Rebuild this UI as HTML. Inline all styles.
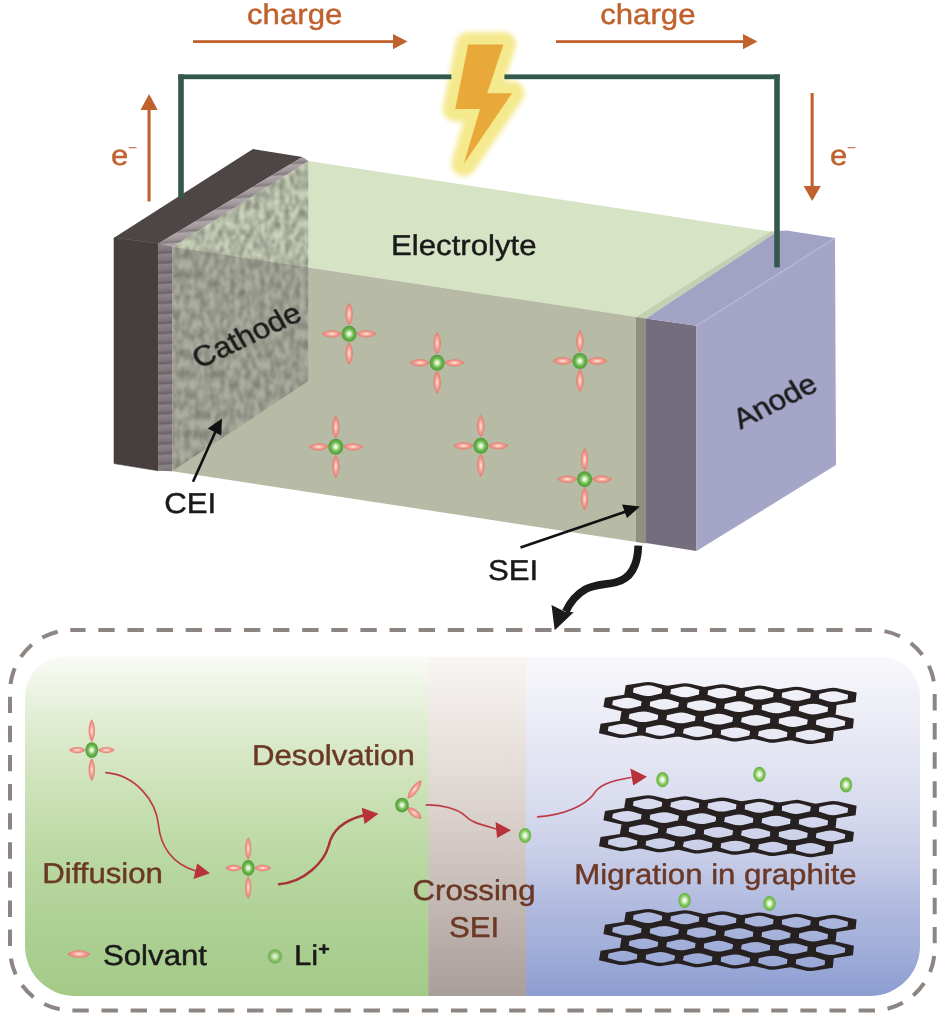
<!DOCTYPE html>
<html lang="en">
<head>
<meta charset="utf-8">
<title>Battery charge schematic</title>
<style>
html,body{margin:0;padding:0;background:#fff;}
body{width:945px;height:1018px;overflow:hidden;}
svg{display:block;}
text{font-family:"Liberation Sans",sans-serif;text-rendering:geometricPrecision;}
.tk,.tb,.to{opacity:0.999;}
.tk text{stroke:#1a1a1a;}
.tb text{stroke:#6b3826;}
.to text{stroke:#c0622d;}
</style>
</head>
<body>
<svg width="945" height="1018" viewBox="0 0 945 1018">
<defs>
<radialGradient id="ball" cx="50%" cy="50%" r="50%">
<stop offset="0" stop-color="#ffffff"/>
<stop offset="0.22" stop-color="#d8f0c8"/>
<stop offset="0.6" stop-color="#6cb84c"/>
<stop offset="1" stop-color="#4f9a3a"/>
</radialGradient>
<radialGradient id="ball3" cx="50%" cy="50%" r="50%">
<stop offset="0" stop-color="#eef8e4"/>
<stop offset="0.3" stop-color="#c4e4ac"/>
<stop offset="0.7" stop-color="#7cb25c"/>
<stop offset="0.9" stop-color="#7fb562"/>
<stop offset="1" stop-color="#9ac97e"/>
</radialGradient>
<radialGradient id="ball2" cx="50%" cy="50%" r="50%">
<stop offset="0" stop-color="#ffffff"/>
<stop offset="0.28" stop-color="#e0f4d0"/>
<stop offset="0.65" stop-color="#84c85c"/>
<stop offset="1" stop-color="#62ad42"/>
</radialGradient>
<radialGradient id="petal" cx="50%" cy="50%" r="50%">
<stop offset="0" stop-color="#ffeeda"/>
<stop offset="0.35" stop-color="#f8b3a6"/>
<stop offset="0.75" stop-color="#ec8a84"/>
<stop offset="1" stop-color="#d87c5c"/>
</radialGradient>
<linearGradient id="gGreen" x1="0" y1="0" x2="0" y2="1">
<stop offset="0" stop-color="#f9fbf5"/>
<stop offset="0.2" stop-color="#e0ecd1"/>
<stop offset="0.4" stop-color="#cbe1b7"/>
<stop offset="0.6" stop-color="#bad8a2"/>
<stop offset="0.8" stop-color="#add093"/>
<stop offset="1" stop-color="#a4ca88"/>
</linearGradient>
<linearGradient id="gSei" x1="0" y1="0" x2="0" y2="1">
<stop offset="0" stop-color="#f8f5f3"/>
<stop offset="0.2" stop-color="#ece6e3"/>
<stop offset="0.44" stop-color="#ddd4cf"/>
<stop offset="0.6" stop-color="#cfc5c0"/>
<stop offset="0.84" stop-color="#b8ada9"/>
<stop offset="1" stop-color="#a89e9a"/>
</linearGradient>
<linearGradient id="gBlue" x1="0" y1="0" x2="0" y2="1">
<stop offset="0" stop-color="#f8f8fb"/>
<stop offset="0.2" stop-color="#eaebf5"/>
<stop offset="0.44" stop-color="#d9dcef"/>
<stop offset="0.6" stop-color="#c6cce7"/>
<stop offset="0.72" stop-color="#b3bce0"/>
<stop offset="0.85" stop-color="#a2afd9"/>
<stop offset="1" stop-color="#8c9dd1"/>
</linearGradient>
<filter id="noise" x="0" y="0" width="100%" height="100%" color-interpolation-filters="sRGB">
<feTurbulence type="fractalNoise" baseFrequency="0.2 0.1" numOctaves="3" seed="11" result="n"/>
<feColorMatrix in="n" type="matrix" values="0 0 0 0 0.42  0 0 0 0 0.43  0 0 0 0 0.39  1.45 0 0 0 -0.44"/>
<feGaussianBlur stdDeviation="0.8"/>
</filter>
<filter id="glow" x="-50%" y="-50%" width="200%" height="200%">
<feGaussianBlur stdDeviation="2.8"/>
</filter>
<filter id="soft" x="-5%" y="-5%" width="110%" height="110%">
<feGaussianBlur stdDeviation="0.8"/>
</filter>
<clipPath id="cathClip"><polygon points="172.3,247 308.3,161 308.3,381 172.3,471.2"/></clipPath>
<clipPath id="ceiClip"><polygon points="158.4,243.6 302.4,157 308.3,161 172.3,247 172.3,471.2 158.4,470.8"/></clipPath>
<linearGradient id="ribs" gradientUnits="userSpaceOnUse" x1="0" y1="3" x2="0.7" y2="13" spreadMethod="repeat">
<stop offset="0" stop-color="#6e666a"/>
<stop offset="0.18" stop-color="#aaa2a6"/>
<stop offset="0.7" stop-color="#938b8f"/>
<stop offset="0.9" stop-color="#7c7478"/>
<stop offset="1" stop-color="#6e666a"/>
</linearGradient>
<clipPath id="panelClip"><path d="M65,656.5 H880 A40,40 0 0 1 920,696.5 V946 A50,50 0 0 1 870,996 H75 A50,50 0 0 1 25,946 V696.5 A40,40 0 0 1 65,656.5 Z"/></clipPath>
</defs>

<g fill="#c0622d" stroke="none" class="to">
<text transform="translate(247,23.5) scale(1.09,1)" font-size="28.6" stroke-width="0.45" stroke-linejoin="round">charge</text>
<text transform="translate(600.2,24.4) scale(1.09,1)" font-size="28.6" stroke-width="0.45" stroke-linejoin="round">charge</text>
<rect x="193" y="40.2" width="201" height="2.8"/>
<polygon points="393,34 407.5,41.6 393,49.2"/>
<rect x="556" y="40.2" width="188" height="2.8"/>
<polygon points="743,34 757.5,41.6 743,49.2"/>
<rect x="147.5" y="108" width="3.1" height="93.5"/>
<polygon points="140.5,110 149.1,94 157.7,110"/>
<text transform="translate(111,165) scale(1.09,1)" font-size="28.6" stroke-width="0.45" stroke-linejoin="round">e</text>
<text x="127.9" y="153.2" font-size="16" stroke-width="0" fill-opacity="0.9">−</text>
<rect x="810.6" y="93" width="3.1" height="95"/>
<polygon points="803.6,186 812.2,201 820.8,186"/>
<text transform="translate(830,165) scale(1.09,1)" font-size="28.6" stroke-width="0.45" stroke-linejoin="round">e</text>
<text x="846.7" y="153.2" font-size="16" stroke-width="0" fill-opacity="0.9">−</text>
</g>
<polygon points="172.3,247 308.3,161 770,231.5 636,317" fill="#d6e3c5"/>
<polygon points="636,317 770,231.5 778,231 646,318.5" fill="#c3d1b2"/>
<polygon points="172.3,247 636.5,317 636.5,542 172.3,471.2" fill="#b7baa5"/>
<g clip-path="url(#cathClip)">
<polygon points="172.3,247 308.3,161 308.3,267.5" fill="#ccd4bc"/>
<polygon points="172.3,247 308.3,267.5 308.3,381 172.3,471.2" fill="#aeaea1"/>
<rect x="165" y="155" width="150" height="320" fill="#5d5f55" filter="url(#noise)"/>
</g>
<polygon points="114,237.8 253,149 302.4,157 158.4,243.6" fill="#4e4644"/>
<polygon points="114,237.8 158.4,243.6 158.4,470.8 114,463.6" fill="#473f3e" stroke="#473f3e" stroke-width="0.6" stroke-linejoin="round"/>
<g clip-path="url(#ceiClip)">
<rect x="150" y="150" width="165" height="330" fill="url(#ribs)"/>
<polygon points="158.4,243.6 302.4,157 308.3,161 172.3,247" fill="#b8b0b4" fill-opacity="0.3"/>
<polygon points="158.4,243.6 172.3,247 172.3,471.2 158.4,470.8" fill="#655d62" fill-opacity="0.45"/>
</g>
<polygon points="636,317 646,318.5 646,543.5 636,542" fill="#8e917e"/>
<polygon points="646,318.5 696.5,325.7 696.5,551 646,543" fill="#736d7e"/>
<polygon points="646,318.5 778,231 786.5,230.6 835,238 696.5,325.7" fill="#a2a3c4"/>
<polygon points="696.5,325.7 835,238 836,465 696.5,551" fill="#a5a6c7"/>
<line x1="696.5" y1="325.7" x2="835" y2="238" stroke="#b8b9d6" stroke-width="1.2"/>
<polygon points="468.2,44.4 503.4,44.4 487.2,93.3 512,93.3 463.8,163.8 480,109 455.2,109" fill="#f5e98e" stroke="#f5e98e" stroke-width="25" stroke-linejoin="round" filter="url(#glow)"/>
<g fill="#33594f">
<rect x="178.2" y="74.4" width="5.6" height="123.6"/>
<rect x="178.2" y="74.4" width="273.2" height="4.8"/>
<rect x="504.4" y="74.4" width="275.4" height="4.8"/>
<rect x="774.2" y="74.4" width="5.6" height="193"/>
</g>
<polygon points="468.2,44.4 503.4,44.4 487.2,93.3 512,93.3 463.8,163.8 480,109 455.2,109" fill="#e8a93a"/>
<g><path transform="translate(349.1,314.1)" d="M0,-11.4 C4.88,-6.27 4.88,6.27 0,11.4 C-4.88,6.27 -4.88,-6.27 0,-11.4Z" fill="url(#petal)"/><path transform="translate(349.1,353.5)" d="M0,-11.4 C4.88,-6.27 4.88,6.27 0,11.4 C-4.88,6.27 -4.88,-6.27 0,-11.4Z" fill="url(#petal)"/><path transform="translate(331.8,333.8)" d="M-10.1,0 C-5.56,-4.88 5.56,-4.88 10.1,0 C5.56,4.88 -5.56,4.88 -10.1,0Z" fill="url(#petal)"/><path transform="translate(366.4,333.8)" d="M-10.1,0 C-5.56,-4.88 5.56,-4.88 10.1,0 C5.56,4.88 -5.56,4.88 -10.1,0Z" fill="url(#petal)"/><ellipse cx="349.1" cy="333.8" rx="7.5" ry="8" fill="url(#ball)"/></g>
<g><path transform="translate(437.1,343.1)" d="M0,-11.4 C4.88,-6.27 4.88,6.27 0,11.4 C-4.88,6.27 -4.88,-6.27 0,-11.4Z" fill="url(#petal)"/><path transform="translate(437.1,382.5)" d="M0,-11.4 C4.88,-6.27 4.88,6.27 0,11.4 C-4.88,6.27 -4.88,-6.27 0,-11.4Z" fill="url(#petal)"/><path transform="translate(419.8,362.8)" d="M-10.1,0 C-5.56,-4.88 5.56,-4.88 10.1,0 C5.56,4.88 -5.56,4.88 -10.1,0Z" fill="url(#petal)"/><path transform="translate(454.4,362.8)" d="M-10.1,0 C-5.56,-4.88 5.56,-4.88 10.1,0 C5.56,4.88 -5.56,4.88 -10.1,0Z" fill="url(#petal)"/><ellipse cx="437.1" cy="362.8" rx="7.5" ry="8" fill="url(#ball)"/></g>
<g><path transform="translate(579.9,341.3)" d="M0,-11.4 C4.88,-6.27 4.88,6.27 0,11.4 C-4.88,6.27 -4.88,-6.27 0,-11.4Z" fill="url(#petal)"/><path transform="translate(579.9,380.7)" d="M0,-11.4 C4.88,-6.27 4.88,6.27 0,11.4 C-4.88,6.27 -4.88,-6.27 0,-11.4Z" fill="url(#petal)"/><path transform="translate(562.6,361)" d="M-10.1,0 C-5.56,-4.88 5.56,-4.88 10.1,0 C5.56,4.88 -5.56,4.88 -10.1,0Z" fill="url(#petal)"/><path transform="translate(597.2,361)" d="M-10.1,0 C-5.56,-4.88 5.56,-4.88 10.1,0 C5.56,4.88 -5.56,4.88 -10.1,0Z" fill="url(#petal)"/><ellipse cx="579.9" cy="361" rx="7.5" ry="8" fill="url(#ball)"/></g>
<g><path transform="translate(335.8,427.1)" d="M0,-11.4 C4.88,-6.27 4.88,6.27 0,11.4 C-4.88,6.27 -4.88,-6.27 0,-11.4Z" fill="url(#petal)"/><path transform="translate(335.8,466.5)" d="M0,-11.4 C4.88,-6.27 4.88,6.27 0,11.4 C-4.88,6.27 -4.88,-6.27 0,-11.4Z" fill="url(#petal)"/><path transform="translate(318.5,446.8)" d="M-10.1,0 C-5.56,-4.88 5.56,-4.88 10.1,0 C5.56,4.88 -5.56,4.88 -10.1,0Z" fill="url(#petal)"/><path transform="translate(353.1,446.8)" d="M-10.1,0 C-5.56,-4.88 5.56,-4.88 10.1,0 C5.56,4.88 -5.56,4.88 -10.1,0Z" fill="url(#petal)"/><ellipse cx="335.8" cy="446.8" rx="7.5" ry="8" fill="url(#ball)"/></g>
<g><path transform="translate(480.8,426.1)" d="M0,-11.4 C4.88,-6.27 4.88,6.27 0,11.4 C-4.88,6.27 -4.88,-6.27 0,-11.4Z" fill="url(#petal)"/><path transform="translate(480.8,465.5)" d="M0,-11.4 C4.88,-6.27 4.88,6.27 0,11.4 C-4.88,6.27 -4.88,-6.27 0,-11.4Z" fill="url(#petal)"/><path transform="translate(463.5,445.8)" d="M-10.1,0 C-5.56,-4.88 5.56,-4.88 10.1,0 C5.56,4.88 -5.56,4.88 -10.1,0Z" fill="url(#petal)"/><path transform="translate(498.1,445.8)" d="M-10.1,0 C-5.56,-4.88 5.56,-4.88 10.1,0 C5.56,4.88 -5.56,4.88 -10.1,0Z" fill="url(#petal)"/><ellipse cx="480.8" cy="445.8" rx="7.5" ry="8" fill="url(#ball)"/></g>
<g><path transform="translate(584.6,459.5)" d="M0,-11.4 C4.88,-6.27 4.88,6.27 0,11.4 C-4.88,6.27 -4.88,-6.27 0,-11.4Z" fill="url(#petal)"/><path transform="translate(584.6,498.9)" d="M0,-11.4 C4.88,-6.27 4.88,6.27 0,11.4 C-4.88,6.27 -4.88,-6.27 0,-11.4Z" fill="url(#petal)"/><path transform="translate(567.3,479.2)" d="M-10.1,0 C-5.56,-4.88 5.56,-4.88 10.1,0 C5.56,4.88 -5.56,4.88 -10.1,0Z" fill="url(#petal)"/><path transform="translate(601.9,479.2)" d="M-10.1,0 C-5.56,-4.88 5.56,-4.88 10.1,0 C5.56,4.88 -5.56,4.88 -10.1,0Z" fill="url(#petal)"/><ellipse cx="584.6" cy="479.2" rx="7.5" ry="8" fill="url(#ball)"/></g>
<g fill="#1a1a1a" class="tk">
<text transform="translate(391,255.2) scale(1.09,1)" font-size="28.6" stroke-width="0.45" stroke-linejoin="round">Electrolyte</text>
<text transform="translate(199,368.5) scale(1.09,1) rotate(-27.5)" font-size="28.6" stroke-width="0.45" stroke-linejoin="round">Cathode</text>
<text transform="translate(740.3,429.3) scale(1.09,1) rotate(-29)" font-size="28.6" stroke-width="0.45" stroke-linejoin="round">Anode</text>
<text transform="translate(164.3,513.4) scale(1.09,1)" font-size="28.6" stroke-width="0.45" stroke-linejoin="round">CEI</text>
<text transform="translate(488,579.7) scale(1.09,1)" font-size="28.6" stroke-width="0.45" stroke-linejoin="round">SEI</text>
</g>
<g stroke="#111" stroke-width="2.6" fill="#111">
<line x1="193" y1="481.7" x2="215.5" y2="431.5"/>
<polygon points="222,418.6 207.8,428.4 221.2,435.4" stroke="none"/>
<line x1="520.5" y1="547.5" x2="626" y2="511.5"/>
<polygon points="640,506.5 622,504.5 627,518" stroke="none"/>
</g>
<path d="M638.3,545.6 C637.8,564.7 631.3,578.4 616.0,582.2 C605.4,584.8 594.9,584.1 585.3,589.4 C575.8,594.7 569.9,602.8 565.7,611.6" fill="none" stroke="#1c1a1a" stroke-width="7.8" stroke-linecap="butt"/>
<polygon points="554.7,630.3 551.5,604.9 564.5,611.5 573.7,612.3" fill="#1c1a1a"/>
<path d="M72.0,630.0 H872.7 A62.0,62.0 0 0 1 934.7,692.0 V948.5 A62.0,62.0 0 0 1 872.7,1010.5 H72.0 A62.0,62.0 0 0 1 10.0,948.5 V692.0 A62.0,62.0 0 0 1 72.0,630.0 Z" fill="none" stroke="#8c8582" stroke-width="4" stroke-dasharray="16.4 12.72" stroke-dashoffset="2.8"/>
<g clip-path="url(#panelClip)">
<rect x="25" y="656.5" width="404" height="339.5" fill="url(#gGreen)"/>
<rect x="428.5" y="656.5" width="98" height="339.5" fill="url(#gSei)"/>
<rect x="526" y="656.5" width="394" height="339.5" fill="url(#gBlue)"/>
</g>
<g fill="#262120" fill-rule="evenodd"><path d="M644.94,682.24Q649.15,681.58 653.1,682.5L671.15,686.73L669.71,696.12L650.48,699.16Q646.25,699.82 642.28,698.9L624.2,694.67L625.74,685.29ZM642.67,685.96Q648.67,684.57 654.18,686.32L662.45,688.94L661.77,693.37L652.75,695.45Q646.73,696.83 641.21,695.08L632.93,692.46L633.65,688.03Z"/><path d="M682,683.42Q686.2,682.75 690.16,683.68L708.24,687.91L706.9,697.3L687.7,700.34Q683.48,701.01 679.5,700.08L661.38,695.85L662.84,686.46ZM679.76,687.13Q685.75,685.75 691.28,687.5L699.57,690.12L698.93,694.56L689.93,696.63Q683.93,698.01 678.39,696.26L670.09,693.64L670.77,689.21Z"/><path d="M719.06,684.6Q723.25,683.93 727.22,684.86L745.33,689.08L744.08,698.48L724.92,701.52Q720.71,702.19 716.72,701.26L698.57,697.03L699.93,687.64ZM716.86,688.31Q722.83,686.93 728.37,688.68L736.69,691.3L736.09,695.74L727.12,697.81Q721.13,699.19 715.57,697.44L707.25,694.82L707.89,690.38Z"/><path d="M756.12,685.77Q760.3,685.1 764.28,686.03L782.43,690.26L781.27,699.66L762.14,702.71Q757.94,703.38 753.94,702.45L735.76,698.22L737.03,688.82ZM753.95,689.49Q759.91,688.1 765.47,689.85L773.81,692.48L773.25,696.92L764.3,698.99Q758.33,700.38 752.76,698.63L744.41,696L745,691.56Z"/><path d="M793.17,686.95Q797.35,686.28 801.34,687.21L819.52,691.44L818.46,700.85L799.36,703.89Q795.17,704.56 791.16,703.63L772.94,699.4L774.12,690ZM791.05,690.67Q796.99,689.28 802.56,691.03L810.93,693.66L810.41,698.1L801.49,700.17Q795.53,701.56 789.94,699.81L781.58,697.18L782.12,692.74Z"/><path d="M830.23,688.12Q834.4,687.45 838.4,688.38L856.62,692.62L855.64,702.03L836.58,705.08Q832.4,705.75 828.38,704.82L810.13,700.58L811.21,691.18ZM828.14,691.84Q834.07,690.46 839.66,692.21L848.05,694.84L847.58,699.28L838.67,701.36Q832.73,702.74 827.13,700.99L818.74,698.36L819.24,693.92Z"/><path d="M624.26,694.69Q628.49,694.02 632.46,694.95L650.55,699.17L649.07,708.56L629.75,711.59Q625.51,712.26 621.53,711.33L603.4,707.1L604.99,697.72ZM621.97,698.4Q628,697.02 633.52,698.76L641.81,701.38L641.11,705.82L632.05,707.89Q626,709.26 620.46,707.52L612.17,704.89L612.91,700.46Z"/><path d="M661.45,695.87Q665.67,695.2 669.64,696.13L687.77,700.36L686.38,709.75L667.1,712.79Q662.86,713.45 658.87,712.52L640.71,708.29L642.21,698.91ZM659.19,699.58Q665.21,698.2 670.74,699.95L679.06,702.57L678.39,707L669.36,709.07Q663.33,710.45 657.77,708.7L649.46,706.08L650.16,701.65Z"/><path d="M698.64,697.05Q702.85,696.38 706.83,697.31L724.99,701.54L723.69,710.94L704.45,713.98Q700.22,714.64 696.22,713.71L678.02,709.48L679.43,700.09ZM696.41,700.76Q702.42,699.38 707.97,701.13L716.3,703.76L715.68,708.19L706.67,710.26Q700.65,711.64 695.09,709.89L686.75,707.27L687.4,702.84Z"/><path d="M735.82,698.23Q740.03,697.57 744.01,698.49L762.21,702.73L761.01,712.13L741.8,715.17Q737.57,715.84 733.57,714.91L715.33,710.67L716.65,701.28ZM733.64,701.95Q739.62,700.57 745.19,702.32L753.55,704.94L752.97,709.38L743.98,711.45Q737.98,712.83 732.4,711.08L724.03,708.46L724.65,704.02Z"/><path d="M773.01,699.42Q777.2,698.75 781.2,699.68L799.43,703.91L798.32,713.31L779.14,716.36Q774.93,717.03 770.92,716.1L752.65,711.86L753.87,702.46ZM770.86,703.13Q776.83,701.75 782.41,703.5L790.79,706.13L790.26,710.57L781.29,712.64Q775.3,714.02 769.71,712.27L761.32,709.65L761.89,705.21Z"/><path d="M810.19,700.6Q814.38,699.93 818.39,700.86L836.65,705.1L835.63,714.5L816.49,717.55Q812.29,718.22 808.26,717.29L789.96,713.05L791.09,703.65ZM808.08,704.32Q814.04,702.93 819.63,704.68L828.04,707.31L827.55,711.75L818.6,713.83Q812.63,715.21 807.02,713.46L798.61,710.83L799.14,706.39Z"/><path d="M640.78,708.31Q645.01,707.64 649,708.57L667.17,712.8L665.74,722.19L646.37,725.22Q642.12,725.89 638.12,724.96L619.91,720.73L621.45,711.35ZM638.49,712.02Q644.54,710.64 650.09,712.39L658.42,715.01L657.73,719.45L648.65,721.51Q642.6,722.89 637.03,721.14L628.7,718.52L629.42,714.09Z"/><path d="M678.09,709.5Q682.32,708.83 686.31,709.76L704.52,713.99L703.17,723.39L683.85,726.42Q679.6,727.09 675.59,726.16L657.35,721.92L658.8,712.54ZM675.84,713.21Q681.87,711.83 687.44,713.58L695.79,716.21L695.15,720.64L686.09,722.71Q680.05,724.09 674.47,722.34L666.11,719.71L666.79,715.28Z"/><path d="M715.4,710.69Q719.62,710.02 723.62,710.95L741.86,715.19L740.61,724.58L721.32,727.62Q717.08,728.29 713.07,727.36L694.79,723.12L696.15,713.73ZM713.19,714.4Q719.21,713.02 724.78,714.77L733.16,717.4L732.56,721.83L723.53,723.91Q717.5,725.29 711.91,723.53L703.53,720.91L704.16,716.47Z"/><path d="M752.71,711.88Q756.93,711.21 760.93,712.14L779.21,716.38L778.05,725.78L758.8,728.82Q754.57,729.48 750.54,728.55L732.23,724.31L733.5,714.92ZM750.54,715.59Q756.54,714.21 762.13,715.96L770.53,718.59L769.98,723.03L760.97,725.1Q754.95,726.48 749.35,724.73L740.94,722.1L741.53,717.67Z"/><path d="M790.03,713.07Q794.23,712.4 798.25,713.33L816.56,717.57L815.49,726.97L796.27,730.01Q792.05,730.68 788.02,729.75L769.67,725.51L770.84,716.11ZM787.89,716.78Q793.87,715.4 799.48,717.15L807.91,719.78L807.39,724.22L798.4,726.3Q792.41,727.68 786.78,725.93L778.36,723.3L778.9,718.86Z"/><path d="M827.34,714.26Q831.54,713.59 835.56,714.52L853.91,718.76L852.93,728.17L833.75,731.21Q829.53,731.88 825.49,730.95L807.1,726.71L808.19,717.3ZM825.24,717.98Q831.21,716.59 836.83,718.34L845.28,720.97L844.81,725.42L835.84,727.49Q829.86,728.87 824.22,727.12L815.77,724.49L816.28,720.05Z"/><path d="M619.98,720.74Q624.23,720.08 628.22,721.01L646.44,725.24L644.96,734.63L625.52,737.66Q621.25,738.32 617.24,737.39L598.98,733.15L600.57,723.78ZM617.67,724.45Q623.74,723.08 629.3,724.83L637.65,727.45L636.94,731.88L627.82,733.95Q621.74,735.32 616.16,733.57L607.81,730.95L608.55,726.52Z"/><path d="M657.42,721.94Q661.66,721.27 665.66,722.2L683.92,726.44L682.53,735.83L663.12,738.86Q658.86,739.53 654.84,738.6L636.55,734.36L638.05,724.97ZM655.14,725.65Q661.2,724.27 666.78,726.02L675.15,728.65L674.49,733.08L665.39,735.15Q659.32,736.53 653.73,734.78L645.35,732.15L646.05,727.72Z"/><path d="M694.85,723.14Q699.09,722.47 703.1,723.4L721.39,727.64L720.09,737.03L700.72,740.06Q696.47,740.73 692.44,739.8L674.11,735.56L675.52,726.17ZM692.62,726.85Q698.66,725.47 704.25,727.22L712.65,729.85L712.03,734.28L702.95,736.35Q696.9,737.73 691.29,735.98L682.89,733.35L683.55,728.92Z"/><path d="M732.29,724.33Q736.53,723.66 740.54,724.6L758.86,728.83L757.66,738.23L738.32,741.27Q734.08,741.93 730.04,741L711.68,736.76L713,727.37ZM730.1,728.05Q736.12,726.67 741.73,728.42L750.15,731.05L749.57,735.48L740.52,737.55Q734.48,738.93 728.86,737.18L720.44,734.55L721.05,730.12Z"/><path d="M769.73,725.53Q773.96,724.86 777.98,725.79L796.34,730.03L795.23,739.44L775.93,742.47Q771.68,743.14 767.64,742.21L749.25,737.96L750.47,728.57ZM767.57,729.24Q773.58,727.86 779.2,729.62L787.65,732.25L787.11,736.69L778.08,738.76Q772.06,740.14 766.42,738.38L757.98,735.75L758.55,731.32Z"/><path d="M807.17,726.72Q811.39,726.06 815.42,726.99L833.81,731.23L832.79,740.64L813.53,743.68Q809.29,744.34 805.24,743.41L786.81,739.17L787.94,729.76ZM805.05,730.44Q811.04,729.06 816.68,730.81L825.14,733.44L824.65,737.89L815.65,739.96Q809.64,741.34 803.99,739.59L795.52,736.95L796.05,732.51Z"/></g>
<g fill="#262120" fill-rule="evenodd"><path d="M644.94,795.44Q649.15,794.78 653.1,795.7L671.15,799.93L669.71,809.32L650.48,812.36Q646.25,813.02 642.28,812.1L624.2,807.87L625.74,798.49ZM642.67,799.16Q648.67,797.77 654.18,799.52L662.45,802.14L661.77,806.57L652.75,808.65Q646.73,810.03 641.21,808.28L632.93,805.66L633.65,801.23Z"/><path d="M682,796.62Q686.2,795.95 690.16,796.88L708.24,801.11L706.9,810.5L687.7,813.54Q683.48,814.21 679.5,813.28L661.38,809.05L662.84,799.66ZM679.76,800.33Q685.75,798.95 691.28,800.7L699.57,803.32L698.93,807.76L689.93,809.83Q683.93,811.21 678.39,809.46L670.09,806.84L670.77,802.41Z"/><path d="M719.06,797.8Q723.25,797.13 727.22,798.06L745.33,802.28L744.08,811.68L724.92,814.72Q720.71,815.39 716.72,814.46L698.57,810.23L699.93,800.84ZM716.86,801.51Q722.83,800.13 728.37,801.88L736.69,804.5L736.09,808.94L727.12,811.01Q721.13,812.39 715.57,810.64L707.25,808.02L707.89,803.58Z"/><path d="M756.12,798.97Q760.3,798.3 764.28,799.23L782.43,803.46L781.27,812.86L762.14,815.91Q757.94,816.58 753.94,815.65L735.76,811.42L737.03,802.02ZM753.95,802.69Q759.91,801.3 765.47,803.05L773.81,805.68L773.25,810.12L764.3,812.19Q758.33,813.58 752.76,811.83L744.41,809.2L745,804.76Z"/><path d="M793.17,800.15Q797.35,799.48 801.34,800.41L819.52,804.64L818.46,814.05L799.36,817.09Q795.17,817.76 791.16,816.83L772.94,812.6L774.12,803.2ZM791.05,803.87Q796.99,802.48 802.56,804.23L810.93,806.86L810.41,811.3L801.49,813.37Q795.53,814.76 789.94,813.01L781.58,810.38L782.12,805.94Z"/><path d="M830.23,801.32Q834.4,800.65 838.4,801.58L856.62,805.82L855.64,815.23L836.58,818.28Q832.4,818.95 828.38,818.02L810.13,813.78L811.21,804.38ZM828.14,805.04Q834.07,803.66 839.66,805.41L848.05,808.04L847.58,812.48L838.67,814.56Q832.73,815.94 827.13,814.19L818.74,811.56L819.24,807.12Z"/><path d="M624.26,807.89Q628.49,807.22 632.46,808.15L650.55,812.37L649.07,821.76L629.75,824.79Q625.51,825.46 621.53,824.53L603.4,820.3L604.99,810.92ZM621.97,811.6Q628,810.22 633.52,811.96L641.81,814.58L641.11,819.02L632.05,821.09Q626,822.46 620.46,820.72L612.17,818.09L612.91,813.66Z"/><path d="M661.45,809.07Q665.67,808.4 669.64,809.33L687.77,813.56L686.38,822.95L667.1,825.99Q662.86,826.65 658.87,825.72L640.71,821.49L642.21,812.11ZM659.19,812.78Q665.21,811.4 670.74,813.15L679.06,815.77L678.39,820.2L669.36,822.27Q663.33,823.65 657.77,821.9L649.46,819.28L650.16,814.85Z"/><path d="M698.64,810.25Q702.85,809.58 706.83,810.51L724.99,814.74L723.69,824.14L704.45,827.18Q700.22,827.84 696.22,826.91L678.02,822.68L679.43,813.29ZM696.41,813.96Q702.42,812.58 707.97,814.33L716.3,816.96L715.68,821.39L706.67,823.46Q700.65,824.84 695.09,823.09L686.75,820.47L687.4,816.04Z"/><path d="M735.82,811.43Q740.03,810.77 744.01,811.69L762.21,815.93L761.01,825.33L741.8,828.37Q737.57,829.04 733.57,828.11L715.33,823.87L716.65,814.48ZM733.64,815.15Q739.62,813.77 745.19,815.52L753.55,818.14L752.97,822.58L743.98,824.65Q737.98,826.03 732.4,824.28L724.03,821.66L724.65,817.22Z"/><path d="M773.01,812.62Q777.2,811.95 781.2,812.88L799.43,817.11L798.32,826.51L779.14,829.56Q774.93,830.23 770.92,829.3L752.65,825.06L753.87,815.66ZM770.86,816.33Q776.83,814.95 782.41,816.7L790.79,819.33L790.26,823.77L781.29,825.84Q775.3,827.22 769.71,825.47L761.32,822.85L761.89,818.41Z"/><path d="M810.19,813.8Q814.38,813.13 818.39,814.06L836.65,818.3L835.63,827.7L816.49,830.75Q812.29,831.42 808.26,830.49L789.96,826.25L791.09,816.85ZM808.08,817.52Q814.04,816.13 819.63,817.88L828.04,820.51L827.55,824.95L818.6,827.03Q812.63,828.41 807.02,826.66L798.61,824.03L799.14,819.59Z"/><path d="M640.78,821.51Q645.01,820.84 649,821.77L667.17,826L665.74,835.39L646.37,838.42Q642.12,839.09 638.12,838.16L619.91,833.93L621.45,824.55ZM638.49,825.22Q644.54,823.84 650.09,825.59L658.42,828.21L657.73,832.65L648.65,834.71Q642.6,836.09 637.03,834.34L628.7,831.72L629.42,827.29Z"/><path d="M678.09,822.7Q682.32,822.03 686.31,822.96L704.52,827.19L703.17,836.59L683.85,839.62Q679.6,840.29 675.59,839.36L657.35,835.12L658.8,825.74ZM675.84,826.41Q681.87,825.03 687.44,826.78L695.79,829.41L695.15,833.84L686.09,835.91Q680.05,837.29 674.47,835.54L666.11,832.91L666.79,828.48Z"/><path d="M715.4,823.89Q719.62,823.22 723.62,824.15L741.86,828.39L740.61,837.78L721.32,840.82Q717.08,841.49 713.07,840.56L694.79,836.32L696.15,826.93ZM713.19,827.6Q719.21,826.22 724.78,827.97L733.16,830.6L732.56,835.03L723.53,837.11Q717.5,838.49 711.91,836.73L703.53,834.11L704.16,829.67Z"/><path d="M752.71,825.08Q756.93,824.41 760.93,825.34L779.21,829.58L778.05,838.98L758.8,842.02Q754.57,842.68 750.54,841.75L732.23,837.51L733.5,828.12ZM750.54,828.79Q756.54,827.41 762.13,829.16L770.53,831.79L769.98,836.23L760.97,838.3Q754.95,839.68 749.35,837.93L740.94,835.3L741.53,830.87Z"/><path d="M790.03,826.27Q794.23,825.6 798.25,826.53L816.56,830.77L815.49,840.17L796.27,843.21Q792.05,843.88 788.02,842.95L769.67,838.71L770.84,829.31ZM787.89,829.98Q793.87,828.6 799.48,830.35L807.91,832.98L807.39,837.42L798.4,839.5Q792.41,840.88 786.78,839.13L778.36,836.5L778.9,832.06Z"/><path d="M827.34,827.46Q831.54,826.79 835.56,827.72L853.91,831.96L852.93,841.37L833.75,844.41Q829.53,845.08 825.49,844.15L807.1,839.91L808.19,830.5ZM825.24,831.18Q831.21,829.79 836.83,831.54L845.28,834.17L844.81,838.62L835.84,840.69Q829.86,842.07 824.22,840.32L815.77,837.69L816.28,833.25Z"/><path d="M619.98,833.94Q624.23,833.28 628.22,834.21L646.44,838.44L644.96,847.83L625.52,850.86Q621.25,851.52 617.24,850.59L598.98,846.35L600.57,836.98ZM617.67,837.65Q623.74,836.28 629.3,838.03L637.65,840.65L636.94,845.08L627.82,847.15Q621.74,848.52 616.16,846.77L607.81,844.15L608.55,839.72Z"/><path d="M657.42,835.14Q661.66,834.47 665.66,835.4L683.92,839.64L682.53,849.03L663.12,852.06Q658.86,852.73 654.84,851.8L636.55,847.56L638.05,838.17ZM655.14,838.85Q661.2,837.47 666.78,839.22L675.15,841.85L674.49,846.28L665.39,848.35Q659.32,849.73 653.73,847.98L645.35,845.35L646.05,840.92Z"/><path d="M694.85,836.34Q699.09,835.67 703.1,836.6L721.39,840.84L720.09,850.23L700.72,853.26Q696.47,853.93 692.44,853L674.11,848.76L675.52,839.37ZM692.62,840.05Q698.66,838.67 704.25,840.42L712.65,843.05L712.03,847.48L702.95,849.55Q696.9,850.93 691.29,849.18L682.89,846.55L683.55,842.12Z"/><path d="M732.29,837.53Q736.53,836.87 740.54,837.8L758.86,842.03L757.66,851.43L738.32,854.47Q734.08,855.13 730.04,854.2L711.68,849.96L713,840.57ZM730.1,841.25Q736.12,839.87 741.73,841.62L750.15,844.25L749.57,848.68L740.52,850.75Q734.48,852.13 728.86,850.38L720.44,847.75L721.05,843.32Z"/><path d="M769.73,838.73Q773.96,838.06 777.98,838.99L796.34,843.23L795.23,852.64L775.93,855.67Q771.68,856.34 767.64,855.41L749.25,851.16L750.47,841.77ZM767.57,842.44Q773.58,841.06 779.2,842.82L787.65,845.45L787.11,849.89L778.08,851.96Q772.06,853.34 766.42,851.58L757.98,848.95L758.55,844.52Z"/><path d="M807.17,839.92Q811.39,839.26 815.42,840.19L833.81,844.43L832.79,853.84L813.53,856.88Q809.29,857.54 805.24,856.61L786.81,852.37L787.94,842.96ZM805.05,843.64Q811.04,842.26 816.68,844.01L825.14,846.64L824.65,851.09L815.65,853.16Q809.64,854.54 803.99,852.79L795.52,850.15L796.05,845.71Z"/></g>
<g fill="#262120" fill-rule="evenodd"><path d="M644.94,909.24Q649.15,908.58 653.1,909.5L671.15,913.73L669.71,923.12L650.48,926.16Q646.25,926.82 642.28,925.9L624.2,921.67L625.74,912.29ZM642.67,912.96Q648.67,911.57 654.18,913.32L662.45,915.94L661.77,920.37L652.75,922.45Q646.73,923.83 641.21,922.08L632.93,919.46L633.65,915.03Z"/><path d="M682,910.42Q686.2,909.75 690.16,910.68L708.24,914.91L706.9,924.3L687.7,927.34Q683.48,928.01 679.5,927.08L661.38,922.85L662.84,913.46ZM679.76,914.13Q685.75,912.75 691.28,914.5L699.57,917.12L698.93,921.56L689.93,923.63Q683.93,925.01 678.39,923.26L670.09,920.64L670.77,916.21Z"/><path d="M719.06,911.6Q723.25,910.93 727.22,911.86L745.33,916.08L744.08,925.48L724.92,928.52Q720.71,929.19 716.72,928.26L698.57,924.03L699.93,914.64ZM716.86,915.31Q722.83,913.93 728.37,915.68L736.69,918.3L736.09,922.74L727.12,924.81Q721.13,926.19 715.57,924.44L707.25,921.82L707.89,917.38Z"/><path d="M756.12,912.77Q760.3,912.1 764.28,913.03L782.43,917.26L781.27,926.66L762.14,929.71Q757.94,930.38 753.94,929.45L735.76,925.22L737.03,915.82ZM753.95,916.49Q759.91,915.1 765.47,916.85L773.81,919.48L773.25,923.92L764.3,925.99Q758.33,927.38 752.76,925.63L744.41,923L745,918.56Z"/><path d="M793.17,913.95Q797.35,913.28 801.34,914.21L819.52,918.44L818.46,927.85L799.36,930.89Q795.17,931.56 791.16,930.63L772.94,926.4L774.12,917ZM791.05,917.67Q796.99,916.28 802.56,918.03L810.93,920.66L810.41,925.1L801.49,927.17Q795.53,928.56 789.94,926.81L781.58,924.18L782.12,919.74Z"/><path d="M830.23,915.12Q834.4,914.45 838.4,915.38L856.62,919.62L855.64,929.03L836.58,932.08Q832.4,932.75 828.38,931.82L810.13,927.58L811.21,918.18ZM828.14,918.84Q834.07,917.46 839.66,919.21L848.05,921.84L847.58,926.28L838.67,928.36Q832.73,929.74 827.13,927.99L818.74,925.36L819.24,920.92Z"/><path d="M624.26,921.69Q628.49,921.02 632.46,921.95L650.55,926.17L649.07,935.56L629.75,938.59Q625.51,939.26 621.53,938.33L603.4,934.1L604.99,924.72ZM621.97,925.4Q628,924.02 633.52,925.76L641.81,928.38L641.11,932.82L632.05,934.89Q626,936.26 620.46,934.52L612.17,931.89L612.91,927.46Z"/><path d="M661.45,922.87Q665.67,922.2 669.64,923.13L687.77,927.36L686.38,936.75L667.1,939.79Q662.86,940.45 658.87,939.52L640.71,935.29L642.21,925.91ZM659.19,926.58Q665.21,925.2 670.74,926.95L679.06,929.57L678.39,934L669.36,936.07Q663.33,937.45 657.77,935.7L649.46,933.08L650.16,928.65Z"/><path d="M698.64,924.05Q702.85,923.38 706.83,924.31L724.99,928.54L723.69,937.94L704.45,940.98Q700.22,941.64 696.22,940.71L678.02,936.48L679.43,927.09ZM696.41,927.76Q702.42,926.38 707.97,928.13L716.3,930.76L715.68,935.19L706.67,937.26Q700.65,938.64 695.09,936.89L686.75,934.27L687.4,929.84Z"/><path d="M735.82,925.23Q740.03,924.57 744.01,925.49L762.21,929.73L761.01,939.13L741.8,942.17Q737.57,942.84 733.57,941.91L715.33,937.67L716.65,928.28ZM733.64,928.95Q739.62,927.57 745.19,929.32L753.55,931.94L752.97,936.38L743.98,938.45Q737.98,939.83 732.4,938.08L724.03,935.46L724.65,931.02Z"/><path d="M773.01,926.42Q777.2,925.75 781.2,926.68L799.43,930.91L798.32,940.31L779.14,943.36Q774.93,944.03 770.92,943.1L752.65,938.86L753.87,929.46ZM770.86,930.13Q776.83,928.75 782.41,930.5L790.79,933.13L790.26,937.57L781.29,939.64Q775.3,941.02 769.71,939.27L761.32,936.65L761.89,932.21Z"/><path d="M810.19,927.6Q814.38,926.93 818.39,927.86L836.65,932.1L835.63,941.5L816.49,944.55Q812.29,945.22 808.26,944.29L789.96,940.05L791.09,930.65ZM808.08,931.32Q814.04,929.93 819.63,931.68L828.04,934.31L827.55,938.75L818.6,940.83Q812.63,942.21 807.02,940.46L798.61,937.83L799.14,933.39Z"/><path d="M640.78,935.31Q645.01,934.64 649,935.57L667.17,939.8L665.74,949.19L646.37,952.22Q642.12,952.89 638.12,951.96L619.91,947.73L621.45,938.35ZM638.49,939.02Q644.54,937.64 650.09,939.39L658.42,942.01L657.73,946.45L648.65,948.51Q642.6,949.89 637.03,948.14L628.7,945.52L629.42,941.09Z"/><path d="M678.09,936.5Q682.32,935.83 686.31,936.76L704.52,940.99L703.17,950.39L683.85,953.42Q679.6,954.09 675.59,953.16L657.35,948.92L658.8,939.54ZM675.84,940.21Q681.87,938.83 687.44,940.58L695.79,943.21L695.15,947.64L686.09,949.71Q680.05,951.09 674.47,949.34L666.11,946.71L666.79,942.28Z"/><path d="M715.4,937.69Q719.62,937.02 723.62,937.95L741.86,942.19L740.61,951.58L721.32,954.62Q717.08,955.29 713.07,954.36L694.79,950.12L696.15,940.73ZM713.19,941.4Q719.21,940.02 724.78,941.77L733.16,944.4L732.56,948.83L723.53,950.91Q717.5,952.29 711.91,950.53L703.53,947.91L704.16,943.47Z"/><path d="M752.71,938.88Q756.93,938.21 760.93,939.14L779.21,943.38L778.05,952.78L758.8,955.82Q754.57,956.48 750.54,955.55L732.23,951.31L733.5,941.92ZM750.54,942.59Q756.54,941.21 762.13,942.96L770.53,945.59L769.98,950.03L760.97,952.1Q754.95,953.48 749.35,951.73L740.94,949.1L741.53,944.67Z"/><path d="M790.03,940.07Q794.23,939.4 798.25,940.33L816.56,944.57L815.49,953.97L796.27,957.01Q792.05,957.68 788.02,956.75L769.67,952.51L770.84,943.11ZM787.89,943.78Q793.87,942.4 799.48,944.15L807.91,946.78L807.39,951.22L798.4,953.3Q792.41,954.68 786.78,952.93L778.36,950.3L778.9,945.86Z"/><path d="M827.34,941.26Q831.54,940.59 835.56,941.52L853.91,945.76L852.93,955.17L833.75,958.21Q829.53,958.88 825.49,957.95L807.1,953.71L808.19,944.3ZM825.24,944.98Q831.21,943.59 836.83,945.34L845.28,947.97L844.81,952.42L835.84,954.49Q829.86,955.87 824.22,954.12L815.77,951.49L816.28,947.05Z"/><path d="M619.98,947.74Q624.23,947.08 628.22,948.01L646.44,952.24L644.96,961.63L625.52,964.66Q621.25,965.32 617.24,964.39L598.98,960.15L600.57,950.78ZM617.67,951.45Q623.74,950.08 629.3,951.83L637.65,954.45L636.94,958.88L627.82,960.95Q621.74,962.32 616.16,960.57L607.81,957.95L608.55,953.52Z"/><path d="M657.42,948.94Q661.66,948.27 665.66,949.2L683.92,953.44L682.53,962.83L663.12,965.86Q658.86,966.53 654.84,965.6L636.55,961.36L638.05,951.97ZM655.14,952.65Q661.2,951.27 666.78,953.02L675.15,955.65L674.49,960.08L665.39,962.15Q659.32,963.53 653.73,961.78L645.35,959.15L646.05,954.72Z"/><path d="M694.85,950.14Q699.09,949.47 703.1,950.4L721.39,954.64L720.09,964.03L700.72,967.06Q696.47,967.73 692.44,966.8L674.11,962.56L675.52,953.17ZM692.62,953.85Q698.66,952.47 704.25,954.22L712.65,956.85L712.03,961.28L702.95,963.35Q696.9,964.73 691.29,962.98L682.89,960.35L683.55,955.92Z"/><path d="M732.29,951.33Q736.53,950.66 740.54,951.6L758.86,955.83L757.66,965.23L738.32,968.27Q734.08,968.93 730.04,968L711.68,963.76L713,954.37ZM730.1,955.05Q736.12,953.67 741.73,955.42L750.15,958.05L749.57,962.48L740.52,964.55Q734.48,965.93 728.86,964.18L720.44,961.55L721.05,957.12Z"/><path d="M769.73,952.53Q773.96,951.86 777.98,952.79L796.34,957.03L795.23,966.44L775.93,969.47Q771.68,970.14 767.64,969.21L749.25,964.96L750.47,955.57ZM767.57,956.24Q773.58,954.86 779.2,956.62L787.65,959.25L787.11,963.69L778.08,965.76Q772.06,967.14 766.42,965.38L757.98,962.75L758.55,958.32Z"/><path d="M807.17,953.72Q811.39,953.06 815.42,953.99L833.81,958.23L832.79,967.64L813.53,970.68Q809.29,971.34 805.24,970.41L786.81,966.17L787.94,956.76ZM805.05,957.44Q811.04,956.06 816.68,957.81L825.14,960.44L824.65,964.89L815.65,966.96Q809.64,968.34 803.99,966.59L795.52,963.95L796.05,959.51Z"/></g>
<ellipse cx="525" cy="835.5" rx="6.2" ry="7.6" fill="url(#ball2)"/>
<ellipse cx="662.5" cy="779.7" rx="6.2" ry="7.6" fill="url(#ball2)"/>
<ellipse cx="759.4" cy="774.3" rx="6.2" ry="7.6" fill="url(#ball2)"/>
<ellipse cx="846" cy="784.8" rx="6.2" ry="7.6" fill="url(#ball2)"/>
<ellipse cx="684.6" cy="900.3" rx="6.2" ry="7.6" fill="url(#ball2)"/>
<ellipse cx="769.5" cy="903.5" rx="6.2" ry="7.6" fill="url(#ball2)"/>
<g><path transform="translate(91.75,730.6)" d="M0,-11.3 C4.22,-6.22 4.22,6.22 0,11.3 C-4.22,6.22 -4.22,-6.22 0,-11.3Z" fill="url(#petal)"/><path transform="translate(91.75,769.6)" d="M0,-11.3 C4.22,-6.22 4.22,6.22 0,11.3 C-4.22,6.22 -4.22,-6.22 0,-11.3Z" fill="url(#petal)"/><path transform="translate(77.25,750.1)" d="M-8.4,0 C-4.62,-4.22 4.62,-4.22 8.4,0 C4.62,4.22 -4.62,4.22 -8.4,0Z" fill="url(#petal)"/><path transform="translate(106.25,750.1)" d="M-8.4,0 C-4.62,-4.22 4.62,-4.22 8.4,0 C4.62,4.22 -4.62,4.22 -8.4,0Z" fill="url(#petal)"/><ellipse cx="91.75" cy="750.1" rx="6.4" ry="7.9" fill="url(#ball)"/></g>
<g><path transform="translate(248.2,848.5)" d="M0,-11.3 C4.22,-6.22 4.22,6.22 0,11.3 C-4.22,6.22 -4.22,-6.22 0,-11.3Z" fill="url(#petal)"/><path transform="translate(248.2,887.5)" d="M0,-11.3 C4.22,-6.22 4.22,6.22 0,11.3 C-4.22,6.22 -4.22,-6.22 0,-11.3Z" fill="url(#petal)"/><path transform="translate(233.7,868)" d="M-8.4,0 C-4.62,-4.22 4.62,-4.22 8.4,0 C4.62,4.22 -4.62,4.22 -8.4,0Z" fill="url(#petal)"/><path transform="translate(262.7,868)" d="M-8.4,0 C-4.62,-4.22 4.62,-4.22 8.4,0 C4.62,4.22 -4.62,4.22 -8.4,0Z" fill="url(#petal)"/><ellipse cx="248.2" cy="868" rx="6.4" ry="7.9" fill="url(#ball)"/></g>
<g>
<path transform="translate(414.5,789.6) rotate(-53)" d="M-11.6,0 C-6.38,-4.62 6.38,-4.62 11.6,0 C6.38,4.62 -6.38,4.62 -11.6,0Z" fill="url(#petal)"/>
<path transform="translate(414.3,813) rotate(37)" d="M-9,0 C-4.95,-4.88 4.95,-4.88 9,0 C4.95,4.88 -4.95,4.88 -9,0Z" fill="url(#petal)"/>
<ellipse cx="402" cy="805.1" rx="6.8" ry="7.4" fill="url(#ball)"/>
</g>
<g fill="none" stroke="#b8323c" stroke-linecap="round">
<path d="M106,772.6 C135,775 156,800 158.5,825 C160.5,846 172,864 196,871" stroke-width="1.7" stroke="#bd3b45"/>
<path d="M279,884.3 C305,882 324,862 328.6,846 C332,830 345,820 364,815.3" stroke-width="2.5" stroke="#a8323a"/>
<path d="M426.1,805 C442,804.5 458.5,809.1 465.4,816 C470.9,822.1 477.8,823.7 497,829.2" stroke-width="1.7" stroke="#bd3b45"/>
<path d="M537.7,816.9 C565,815 585,805 593,795 C598,786 608,781 631,777.5" stroke-width="1.7" stroke="#bd3b45"/>
</g>
<g fill="#b8323c">
<polygon points="210,873.3 197.2,863.5 193.5,879"/>
<polygon points="378.5,813.8 361.7,807.8 364.6,824"/>
<polygon points="511,830.3 495.5,822 497,838"/>
<polygon points="647,776.7 630.3,768.5 633.2,785.4"/>
</g>
<g fill="#6b3826" class="tb">
<text transform="translate(42.2,883.3) scale(1.09,1)" font-size="28.6" stroke-width="0.45" stroke-linejoin="round">Diffusion</text>
<text transform="translate(252,765) scale(1.09,1)" font-size="28.6" stroke-width="0.45" stroke-linejoin="round">Desolvation</text>
<text transform="translate(412.5,899.7) scale(1.09,1)" font-size="28.6" stroke-width="0.45" stroke-linejoin="round">Crossing</text>
<text transform="translate(449,937.2) scale(1.09,1)" font-size="28.6" stroke-width="0.45" stroke-linejoin="round">SEI</text>
<text transform="translate(574.3,883.9) scale(1.09,1)" font-size="28.6" stroke-width="0.45" stroke-linejoin="round">Migration in graphite</text>
</g>
<path transform="translate(79,954)" d="M-11.6,0 C-6.38,-5.15 6.38,-5.15 11.6,0 C6.38,5.15 -6.38,5.15 -11.6,0Z" fill="url(#petal)"/>
<g fill="#1a1a1a" class="tk">
<text transform="translate(103,964.8) scale(1.09,1)" font-size="28.6" stroke-width="0.45" stroke-linejoin="round">Solvant</text>
<text transform="translate(294,965) scale(1.09,1)" font-size="28.6" stroke-width="0.45" stroke-linejoin="round">Li</text>
<text transform="translate(318.3,955) scale(1.09,1)" font-size="18" stroke-width="0.45" stroke-linejoin="round" font-weight="bold">+</text>
</g>
<ellipse cx="275" cy="956.4" rx="7.6" ry="7.6" fill="url(#ball3)"/>
</svg>
</body>
</html>
